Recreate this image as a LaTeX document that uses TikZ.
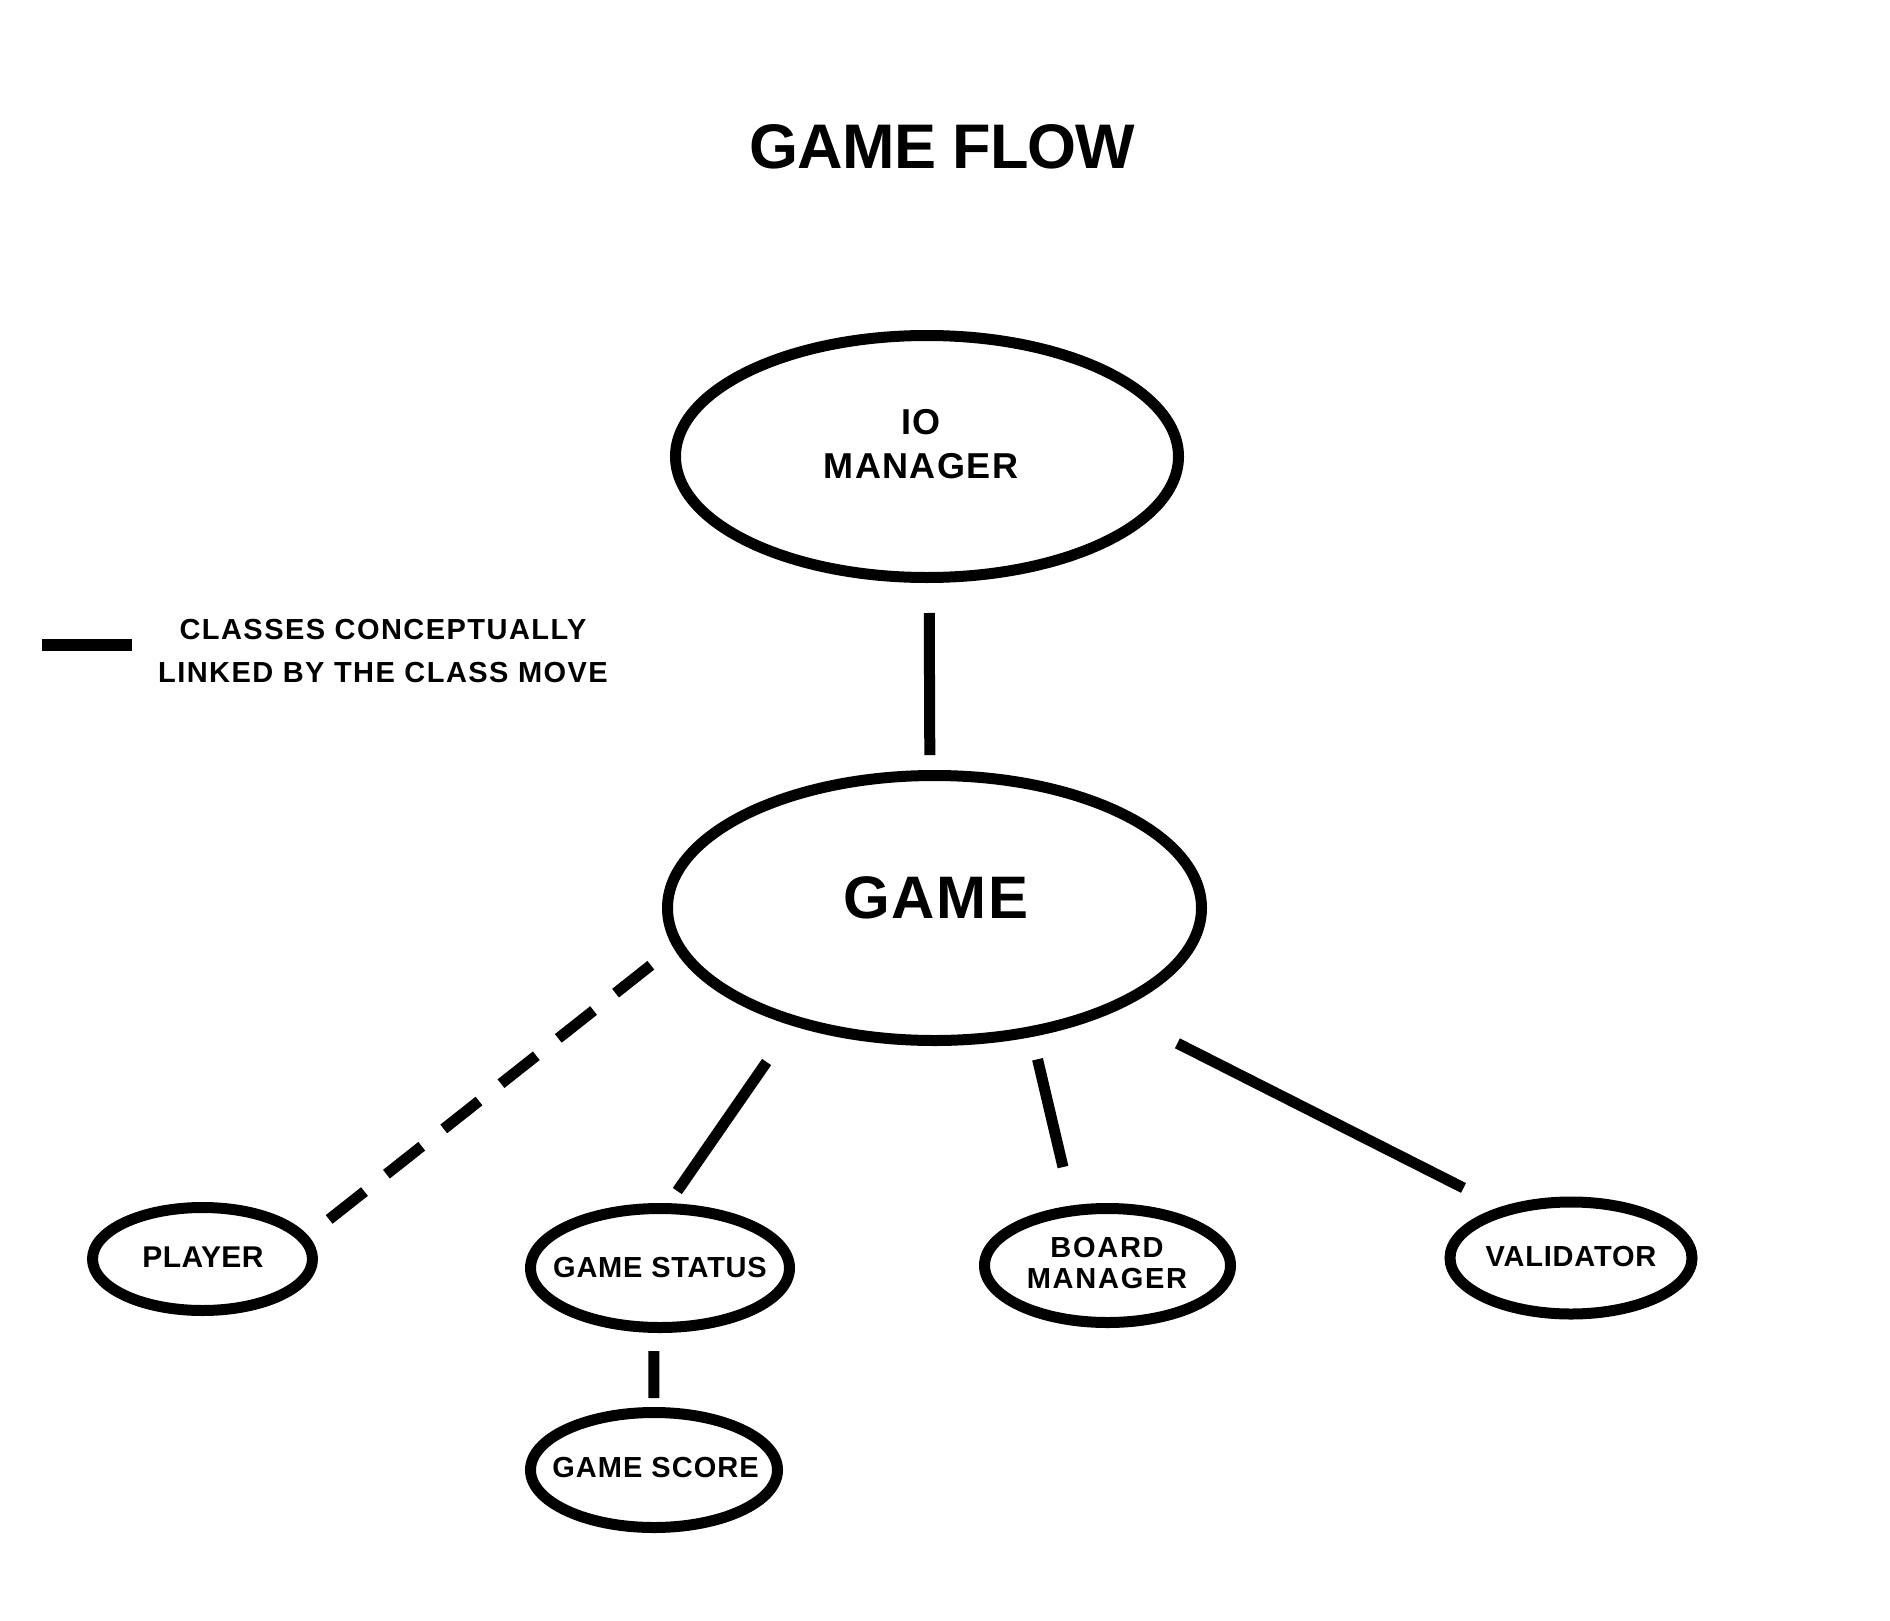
\documentclass[tikz,border=0pt]{standalone}
\usepackage{fontspec}
\setmainfont{Liberation Sans}
\usetikzlibrary{shapes.geometric}
\newcommand{\mytxt}[3]{\bfseries\fontsize{#1}{#2}\selectfont\addfontfeatures{LetterSpace=#3}}
\tikzset{
  ell/.style={ellipse, draw=black, line width=11pt, inner sep=0pt, outer sep=0pt},
  link/.style={draw=black, line width=11pt},
  lbl/.style={inner sep=0pt, outer sep=0pt, align=center, text=black},
}
\begin{document}
\begin{tikzpicture}[x=1pt,y=-1pt]
\fill[white] (0,0) rectangle (1890,1621);
\useasboundingbox (0,0) rectangle (1890,1621);

% title
\node[lbl, font=\mytxt{63}{70}{-1.5}] (title) at (942.5,146.5) {GAME FLOW};

% legend
\coordinate (lega) at (42,645);
\coordinate (legb) at (132,645);
\draw[link, line width=12pt] (lega) -- (legb);
\node[lbl, font=\mytxt{29}{43}{5}] (legend) at (383,651) {CLASSES CONCEPTUALLY\\LINKED BY THE CLASS MOVE};

% ellipses
\node[ell, minimum width=503pt, minimum height=242pt] (io) at (927,456.5) {};
\node[ell, minimum width=534pt, minimum height=265pt] (game) at (934.5,908) {};
\node[ell, minimum width=220pt, minimum height=103pt] (player) at (202.5,1259) {};
\node[ell, minimum width=259pt, minimum height=119pt] (gs) at (660,1268) {};
\node[ell, minimum width=247pt, minimum height=115pt] (sc) at (654,1470) {};
\node[ell, minimum width=246pt, minimum height=114pt] (bm) at (1107.5,1265.5) {};
\node[ell, minimum width=242pt, minimum height=112pt] (val) at (1571,1258) {};

% texts
\node[lbl, font=\mytxt{36}{44}{4}] (iot) at (921,444) {IO\\MANAGER};
\node[lbl, font=\mytxt{60}{66}{3}] (gamet) at (936,898) {GAME};
\node[lbl, font=\mytxt{30}{33}{1.5}] (playert) at (203,1257.5) {PLAYER};
\node[lbl, font=\mytxt{29}{31}{2.6}] (gst) at (660,1267.5) {GAME STATUS};
\node[lbl, font=\mytxt{29}{31}{3.5}] (sct) at (655.5,1468) {GAME SCORE};
\node[lbl, font=\mytxt{29}{31}{6}] (bmt) at (1107,1263.5) {BOARD\\MANAGER};
\node[lbl, font=\mytxt{29}{31}{2.8}] (valt) at (1571,1257) {VALIDATOR};

% connectors
\draw[link, shorten <=35.5pt, shorten >=20.5pt] (io.-89.05) -- (game.92.4);
\draw[link, dash pattern=on 45pt off 28pt, shorten <=34.1pt, shorten >=30.7pt] (game.188.95) -- (player.11.3);
\draw[link, shorten <=49.9pt, shorten >=21.3pt] (game.219) -- (gs.85.4);
\draw[link, shorten <=28.5pt, shorten >=44.9pt] (game.308.6) -- (bm.122.5);
\draw[link, shorten <=77.2pt, shorten >=49.5pt] (game.330.3) -- (val.143.4);
\draw[link, shorten <=23.6pt, shorten >=14.5pt] (gs.264.2) -- (sc.north);
\end{tikzpicture}
\end{document}
